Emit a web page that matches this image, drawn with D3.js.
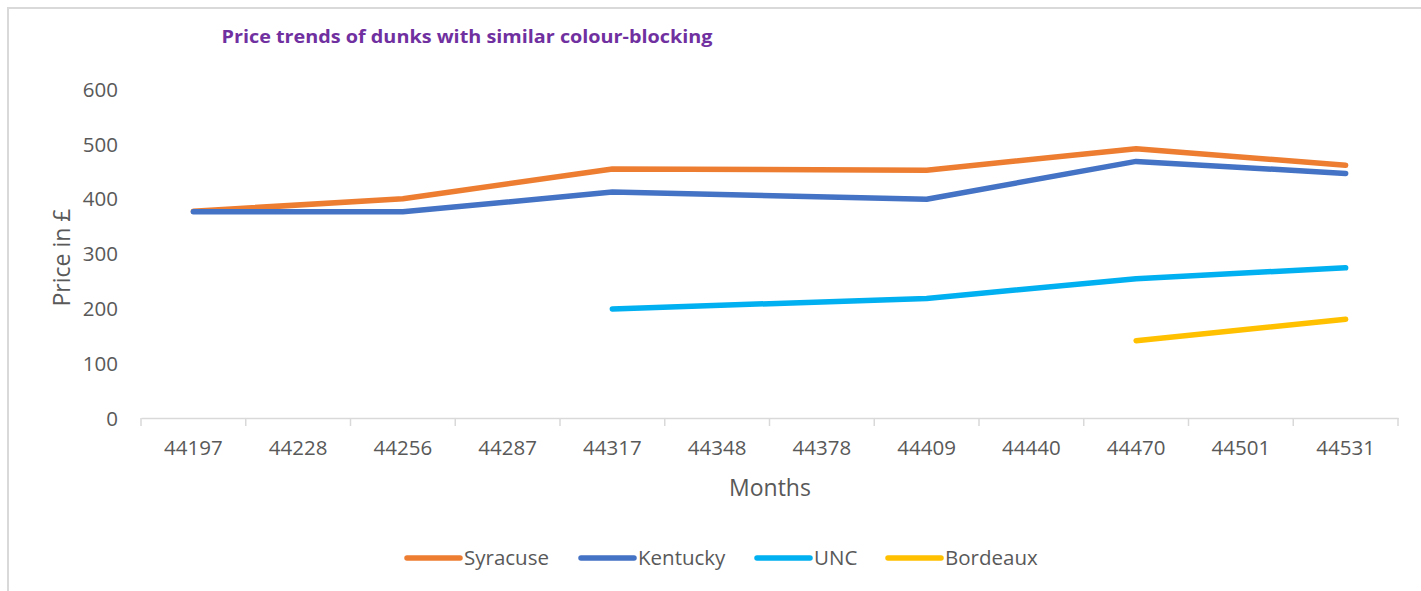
<!DOCTYPE html>
<html><head><meta charset="utf-8">
<script src="https://cdn.jsdelivr.net/npm/d3@7"></script>
<style>body{margin:0;background:#fff;}svg{display:block;}</style>
</head><body>
<svg id="c" width="1421" height="591"></svg>
<script>
const categories = ["44197","44228","44256","44287","44317","44348","44378","44409","44440","44470","44501","44531"];
const seriesNames = ["Syracuse","Kentucky","UNC","Bordeaux"];
const seriesColors = ["#ED7D31","#4472C4","#00B0F0","#FFC000"];
const syracuse = [377,null,400,null,454,null,null,452,null,491,null,461];
const kentucky = [376,null,376,null,412,null,null,399,null,468,null,446];
const unc      = [null,null,null,null,199,null,null,218,null,254,null,274];
const bordeaux = [null,null,null,null,null,null,null,null,null,141,null,180];
const yTicks = [0,100,200,300,400,500,600];
const allSeries = [syracuse,kentucky,unc,bordeaux];

(function(){
const svg = d3.select("#c");
const FONT = "'Open Sans', 'Liberation Sans', sans-serif";
const tickColor = "#595959";

// outer border
svg.append("path").attr("d","M8,591 V8 H1421").attr("fill","none").attr("stroke","#D9D9D9").attr("stroke-width",2);

const pL = 141, pR = 1398, pT = 89, pB = 418;
const x = d3.scaleBand().domain(categories).range([pL,pR]).padding(0);
const y = d3.scaleLinear().domain([0,600]).range([pB,pT]);

// title
svg.append("text").attr("x",467).attr("y",43).attr("text-anchor","middle")
  .attr("font-family",FONT).attr("font-weight","bold").attr("font-size",18.5)
  .attr("fill","#7030A0").attr("textLength",491).attr("lengthAdjust","spacingAndGlyphs")
  .text("Price trends of dunks with similar colour-blocking");

// y axis labels
const yAxis = svg.append("g").attr("transform",`translate(${pL-23},0)`)
  .call(d3.axisLeft(y).tickValues(yTicks).tickSize(0).tickPadding(0));
yAxis.select(".domain").remove();
yAxis.selectAll("text").attr("font-family",FONT).attr("font-size",20.5).attr("fill",tickColor).attr("dy","0.35em");

// x axis
const xAxis = svg.append("g").attr("transform",`translate(0,${pB})`)
  .call(d3.axisBottom(x).tickSize(0).tickPadding(22));
xAxis.select(".domain").attr("stroke","#D9D9D9").attr("stroke-width",1.5);
xAxis.selectAll("text").attr("font-family",FONT).attr("font-size",20.5).attr("fill",tickColor);
// category boundary tick marks
svg.append("g").selectAll("line").data(d3.range(categories.length+1)).join("line")
  .attr("x1",i=>pL + i*x.bandwidth()).attr("x2",i=>pL + i*x.bandwidth())
  .attr("y1",pB).attr("y2",pB+8).attr("stroke","#D9D9D9").attr("stroke-width",1.5);

// axis titles
svg.append("text").attr("transform",`translate(70,${(pT+pB)/2+4}) rotate(-90)`)
  .attr("text-anchor","middle").attr("font-family",FONT).attr("font-size",23).attr("fill",tickColor)
  .text("Price in £");
svg.append("text").attr("x",770).attr("y",496).attr("text-anchor","middle")
  .attr("font-family",FONT).attr("font-size",23).attr("fill",tickColor).text("Months");

// lines
const line = d3.line().x(d=>x(d.c)+x.bandwidth()/2).y(d=>y(d.v));
allSeries.forEach((vals,i)=>{
  const pts = vals.map((v,j)=>({c:categories[j],v})).filter(d=>d.v!==null);
  svg.append("path").datum(pts).attr("d",line).attr("fill","none")
    .attr("stroke",seriesColors[i]).attr("stroke-width",5.5)
    .attr("stroke-linecap","round").attr("stroke-linejoin","round");
});

// legend
const legX = [407,581,757,888];
const lg = svg.append("g");
seriesNames.forEach((n,i)=>{
  lg.append("line").attr("x1",legX[i]).attr("x2",legX[i]+53).attr("y1",558).attr("y2",558)
    .attr("stroke",seriesColors[i]).attr("stroke-width",5.5).attr("stroke-linecap","round");
  lg.append("text").attr("x",legX[i]+57).attr("y",558).attr("dy","0.35em")
    .attr("font-family",FONT).attr("font-size",20.5).attr("fill",tickColor).text(n);
});
})();
</script>
</body></html>
